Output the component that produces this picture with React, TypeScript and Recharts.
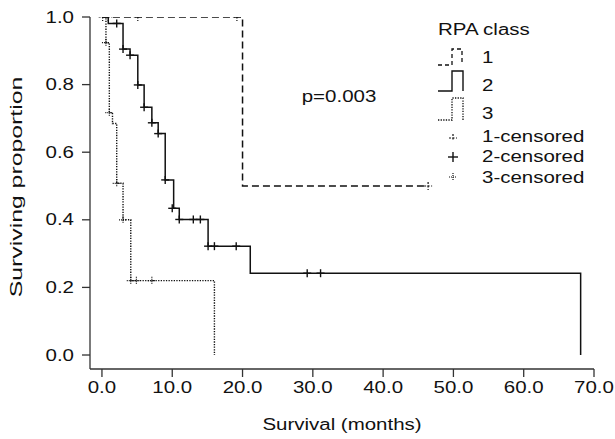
import React from 'react';
import { ComposedChart, Line, Scatter, XAxis, YAxis } from 'recharts';

// step curves (months, surviving proportion)
const t1 = [0, 20, 46.4];
const s1 = [1, 0.5, 0.5];
const t2 = [0, 0.9, 3.0, 4.0, 5.1, 6.0, 7.1, 8.0, 9.0, 10.2, 11.0, 15.1, 21.1, 68.1];
const s2 = [1, 0.981, 0.905, 0.887, 0.799, 0.733, 0.687, 0.655, 0.518, 0.434, 0.401, 0.322, 0.242, 0];
const t3 = [0, 0.57, 1.05, 1.5, 2.1, 3.0, 4.1, 16.0];
const s3 = [1, 0.924, 0.717, 0.685, 0.508, 0.4, 0.22, 0];

// censored observations
const c1t = [0.1, 0.9, 5.1, 19.2, 46.4];
const c1s = [1, 1, 1, 1, 0.5];
const c2t = [2.1, 3.0, 4.0, 5.1, 6.0, 7.1, 8.0, 9.0, 10.0, 11.0, 13.0, 14.0, 15.1, 16.0, 19.1, 29.2, 31.1];
const c2s = [0.981, 0.905, 0.887, 0.799, 0.733, 0.687, 0.655, 0.518, 0.434, 0.401, 0.401, 0.401, 0.322, 0.322, 0.322, 0.242, 0.242];
const c3t = [0.57, 1.05, 2.1, 3.0, 4.1, 4.9, 7.1];
const c3s = [0.924, 0.717, 0.508, 0.4, 0.22, 0.22, 0.22];

const xTicks = [0, 10, 20, 30, 40, 50, 60, 70];
const yTicks = [0, 0.2, 0.4, 0.6, 0.8, 1.0];

const zip = (t: number[], s: number[]) => t.map((v, i) => ({ t: v, s: s[i] }));

const FONT = '"Liberation Sans", Arial, sans-serif';
const SX = 1.28;
const INK = '#111';

const XTick = ({ x, y, payload }: any) => (
  <g transform={`translate(${x},${y})`}>
    <text transform={`scale(${SX},1)`} textAnchor="middle" dy="0.71em" fontSize={16} fontFamily={FONT} fill={INK}>
      {Number(payload.value).toFixed(1)}
    </text>
  </g>
);

const YTick = ({ x, y, payload }: any) => (
  <g transform={`translate(${x},${y})`}>
    <text transform={`scale(${SX},1)`} textAnchor="end" dy="0.355em" fontSize={16} fontFamily={FONT} fill={INK}>
      {Number(payload.value).toFixed(1)}
    </text>
  </g>
);

const plus = (dash?: string, w = 1.3) => (props: any) => {
  const { cx, cy } = props;
  if (cx == null || cy == null) return <g />;
  return (
    <g stroke={INK} strokeWidth={w} strokeDasharray={dash}>
      <line x1={cx - 4} y1={cy} x2={cx + 4} y2={cy} />
      <line x1={cx} y1={cy - 4} x2={cx} y2={cy + 4} />
    </g>
  );
};

const Label = ({ x, y, children, anchor = 'start', size = 16, rot = 0, sx = SX }: any) => (
  <g transform={`translate(${x},${y}) rotate(${rot})`}>
    <text transform={`scale(${sx},1)`} textAnchor={anchor} fontSize={size} fontFamily={FONT} fill={INK}>
      {children}
    </text>
  </g>
);

const Overlay = () => (
  <svg width={615} height={439} style={{ position: 'absolute', left: 0, top: 0, pointerEvents: 'none' }}>
    <Label x={339} y={102} anchor="middle">p=0.003</Label>
    <Label x={438} y={35}>RPA class</Label>
    <path d="M438,65 H452 V49 H462 V65" fill="none" stroke={INK} strokeWidth={1.3} strokeDasharray="4 3" />
    <Label x={482} y={63}>1</Label>
    <path d="M438,91 H452 V71 H463 V91" fill="none" stroke={INK} strokeWidth={1.4} />
    <Label x={482} y={91}>2</Label>
    <path d="M438,120 H452 V98 H463 V120" fill="none" stroke={INK} strokeWidth={1.3} strokeDasharray="1.3 1.3" />
    <Label x={482} y={119}>3</Label>
    <g stroke={INK} strokeWidth={1.2} strokeDasharray="2 1.5">
      <line x1={449} y1={138} x2={457} y2={138} />
      <line x1={453} y1={134} x2={453} y2={141} />
    </g>
    <Label x={482} y={142}>1-censored</Label>
    <g stroke={INK} strokeWidth={1.4}>
      <line x1={448} y1={157} x2={458} y2={157} />
      <line x1={453} y1={152} x2={453} y2={162} />
    </g>
    <Label x={482} y={162}>2-censored</Label>
    <g stroke={INK} strokeWidth={1.2} strokeDasharray="1 1">
      <line x1={449} y1={177} x2={457} y2={177} />
      <line x1={453} y1={173} x2={453} y2={181} />
    </g>
    <Label x={482} y={183}>3-censored</Label>
    <Label x={342} y={430} anchor="middle">Survival (months)</Label>
    <Label x={22} y={187} anchor="middle" rot={-90} sx={1.55}>Surviving proportion</Label>
  </svg>
);

export default function App() {
  return (
    <div style={{ position: 'absolute', left: 0, top: 0, width: 615, height: 439, background: '#fff' }}>
      <ComposedChart width={615} height={439} margin={{ top: 17, right: 21, left: 0, bottom: 0 }}>
        <XAxis
          dataKey="t"
          type="number"
          domain={[-1.7, 70]}
          ticks={xTicks}
          tick={<XTick />}
          tickSize={8}
          tickMargin={5}
          height={70}
          allowDataOverflow
          stroke="#333"
          axisLine={{ stroke: '#333', strokeWidth: 1.3 }}
          tickLine={{ stroke: '#333', strokeWidth: 1.3 }}
        />
        <YAxis
          dataKey="s"
          type="number"
          domain={[-0.0414, 1]}
          ticks={yTicks}
          tick={<YTick />}
          tickSize={8}
          tickMargin={8}
          width={90}
          allowDataOverflow
          stroke="#333"
          axisLine={{ stroke: '#333', strokeWidth: 1.3 }}
          tickLine={{ stroke: '#333', strokeWidth: 1.3 }}
        />
        <Line data={zip(t3, s3)} dataKey="s" type="stepAfter" stroke={INK} strokeWidth={1.4} strokeDasharray="1.3 1.3" dot={false} isAnimationActive={false} />
        <Line data={zip(t2, s2)} dataKey="s" type="stepAfter" stroke={INK} strokeWidth={1.5} dot={false} isAnimationActive={false} />
        <Line data={zip(t1, s1)} dataKey="s" type="stepAfter" stroke={INK} strokeWidth={1.5} strokeDasharray="7 4" dot={false} isAnimationActive={false} />
        <Scatter data={zip(c3t, c3s)} dataKey="s" shape={plus('1 1', 1.2)} isAnimationActive={false} />
        <Scatter data={zip(c2t, c2s)} dataKey="s" shape={plus(undefined, 1.4)} isAnimationActive={false} />
        <Scatter data={zip(c1t, c1s)} dataKey="s" shape={plus('2 1.5', 1.2)} isAnimationActive={false} />
      </ComposedChart>
      <Overlay />
    </div>
  );
}
